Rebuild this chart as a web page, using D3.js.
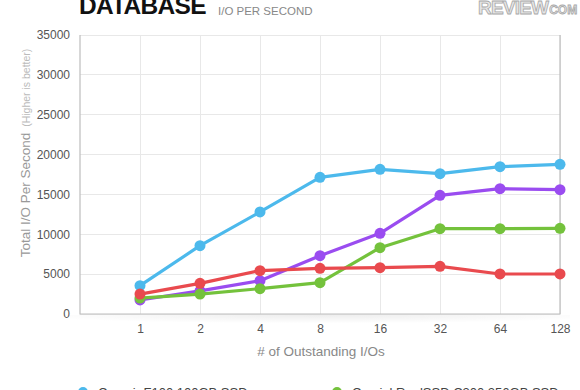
<!DOCTYPE html>
<html>
<head>
<meta charset="utf-8">
<script src="https://cdn.jsdelivr.net/npm/d3@7"></script>
<style>
  html, body { margin: 0; padding: 0; background: #fff; }
  svg { display: block; font-family: "Liberation Sans", Arial, Helvetica, sans-serif; }
</style>
</head>
<body>
<svg id="chart" width="580" height="390"></svg>
<script>
const categories = ["1", "2", "4", "8", "16", "32", "64", "128"];
const yTicks = [0, 5000, 10000, 15000, 20000, 25000, 30000, 35000];
const corsairF100 = [3550, 8570, 12800, 17150, 18150, 17600, 18480, 18780];
const purpleSeries = [1760, 2900, 4180, 7310, 10120, 14890, 15720, 15600];
const crucialC300 = [2000, 2500, 3180, 3930, 8320, 10700, 10700, 10750];
const redSeries = [2500, 3850, 5440, 5730, 5810, 5980, 5020, 5020];
const seriesNames = ["Corsair F100 100GB SSD", "", "Crucial RealSSD C300 256GB SSD", ""];
const seriesColors = ["#4cb9ec", "#9a4cf0", "#74c23c", "#e94a4e"];

(function () {
const series = [corsairF100, purpleSeries, crucialC300, redSeries].map((values, i) => ({
  name: seriesNames[i], color: seriesColors[i], values
}));

const svg = d3.select("#chart");
const pl = 80, pr = 560, pt = 35, pb = 314;

const x = d3.scaleLinear().domain([0, categories.length]).range([pl, pr]);
const y = d3.scaleLinear().domain([0, 35000]).range([pb, pt]);

// shadow under plot
const defs = svg.append("defs");
const grad = defs.append("radialGradient").attr("id", "shadow")
  .attr("cx", "50%").attr("cy", "0%").attr("r", "60%");
grad.append("stop").attr("offset", "0%").attr("stop-color", "#000").attr("stop-opacity", 0.07);
grad.append("stop").attr("offset", "100%").attr("stop-color", "#000").attr("stop-opacity", 0);
svg.append("rect").attr("x", pl - 10).attr("y", pb + 1).attr("width", pr - pl + 20)
  .attr("height", 14).attr("fill", "url(#shadow)");

// grid
const g = svg.append("g");
g.selectAll("line.hg").data(yTicks).join("line").attr("class", "hg")
  .attr("x1", pl).attr("x2", pr).attr("y1", d => y(d)).attr("y2", d => y(d))
  .attr("stroke", "#e8e8e8").attr("stroke-width", 1).attr("shape-rendering", "crispEdges");
g.selectAll("line.vg").data(categories).join("line").attr("class", "vg")
  .attr("x1", (d, i) => x(i + 1)).attr("x2", (d, i) => x(i + 1)).attr("y1", pt).attr("y2", pb)
  .attr("stroke", "#e8e8e8").attr("stroke-width", 1).attr("shape-rendering", "crispEdges");

// frame: left, bottom, right
svg.append("path")
  .attr("d", `M${pl},${pt}V${pb}H${pr}V${pt}`)
  .attr("fill", "none").attr("stroke", "#bdbdbd").attr("stroke-width", 1.2);

// axes
const yAxis = svg.append("g").attr("transform", `translate(${pl},0)`)
  .call(d3.axisLeft(y).tickValues(yTicks).tickSize(0).tickPadding(10).tickFormat(d3.format("d")));
yAxis.select(".domain").remove();
yAxis.selectAll("text").attr("fill", "#555").style("font-size", "12px");

const xAxis = svg.append("g").attr("transform", `translate(0,${pb})`)
  .call(d3.axisBottom(x).tickValues(categories.map((c, i) => i + 1)).tickSize(0).tickPadding(10)
    .tickFormat((d) => categories[d - 1]));
xAxis.select(".domain").remove();
xAxis.selectAll("text").attr("fill", "#555").style("font-size", "12px");

// lines and markers
const line = d3.line().x((d, i) => x(i + 1)).y(d => y(d));
series.forEach(s => {
  const sg = svg.append("g");
  sg.append("path").attr("d", line(s.values)).attr("fill", "none")
    .attr("stroke", s.color).attr("stroke-width", 3.2).attr("stroke-linejoin", "round");
  sg.selectAll("circle").data(s.values).join("circle")
    .attr("cx", (d, i) => x(i + 1)).attr("cy", d => y(d)).attr("r", 5.5).attr("fill", s.color);
});

// titles
svg.append("text").attr("x", 79).attr("y", 14).text("DATABASE")
  .attr("fill", "#111").style("font-size", "24.5px").style("font-weight", "900")
  .style("letter-spacing", "-0.7px");
svg.append("text").attr("x", 218).attr("y", 15).text("I/O PER SECOND")
  .attr("fill", "#888").style("font-size", "11.5px");

// logo
const logo = svg.append("text").attr("x", 478).attr("y", 14)
  .style("font-weight", "bold").attr("fill", "#e6e6e6").attr("stroke", "#a8a8a8")
  .attr("stroke-width", 0.8);
logo.append("tspan").text("REVIEW").style("font-size", "19px").style("letter-spacing", "-0.8px");
logo.append("tspan").text("COM").style("font-size", "12px").attr("dx", 1);

// axis titles
const yt = svg.append("text").attr("transform", "translate(30,153) rotate(-90)")
  .attr("text-anchor", "middle");
yt.append("tspan").text("Total I/O Per Second").attr("fill", "#999").style("font-size", "13.5px");
yt.append("tspan").text(" (Higher is better)").attr("fill", "#bbb").style("font-size", "10.5px").attr("dx", 3);

svg.append("text").attr("x", 321).attr("y", 356).attr("text-anchor", "middle")
  .text("# of Outstanding I/Os").attr("fill", "#888").style("font-size", "13.5px");

// legend (visible entries)
const legendItems = [0, 2].map(i => series[i]);
const legendX = [83, 337];
legendItems.forEach((s, k) => {
  svg.append("circle").attr("cx", legendX[k]).attr("cy", 392).attr("r", 5).attr("fill", s.color);
  svg.append("text").attr("x", legendX[k] + 15).attr("y", 397).text(s.name)
    .attr("fill", "#444").style("font-size", "13px");
});
})();
</script>
</body>
</html>
